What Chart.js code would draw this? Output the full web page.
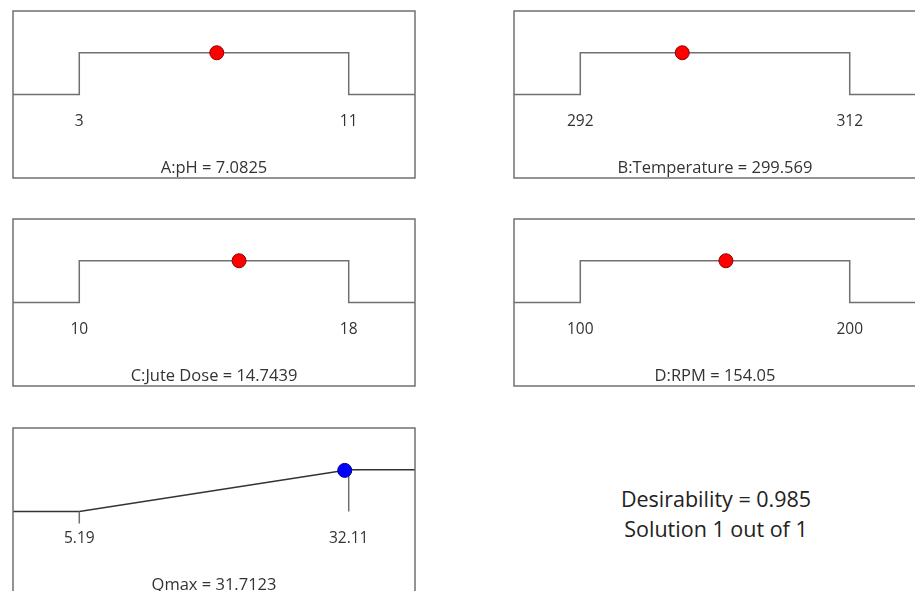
<!DOCTYPE html>
<html>
<head>
<meta charset="utf-8">
<script src="https://cdn.jsdelivr.net/npm/chart.js@4"></script>
<style>
  html, body { margin: 0; padding: 0; background: #fff; }
  body { width: 915px; height: 591px; position: relative; overflow: hidden; font-family: "Open Sans", sans-serif; }
  .panel { position: absolute; width: 404px; height: 169px; }
  .note { position: absolute; left: 560px; top: 484px; width: 312px; text-align: center;
          font-size: 21.5px; line-height: 30px; color: #222; }
</style>
</head>
<body>
<div class="panel" style="left:12px;top:10px"><canvas id="c1" width="404" height="169"></canvas></div>
<div class="panel" style="left:513px;top:10px"><canvas id="c2" width="404" height="169"></canvas></div>
<div class="panel" style="left:12px;top:218px"><canvas id="c3" width="404" height="169"></canvas></div>
<div class="panel" style="left:513px;top:218px"><canvas id="c4" width="404" height="169"></canvas></div>
<div class="panel" style="left:12px;top:427px"><canvas id="c5" width="404" height="169"></canvas></div>
<div class="note">Desirability = 0.985<br>Solution 1 out of 1</div>

<script>
// factor settings: name, low, high, chosen value
const factorNames = ['A:pH', 'B:Temperature', 'C:Jute Dose', 'D:RPM'];
const factorLow = [3, 292, 10, 100];
const factorHigh = [11, 312, 18, 200];
const factorValue = [7.0825, 299.569, 14.7439, 154.05];
const factorLabels = ['7.0825', '299.569', '14.7439', '154.05'];

// response
const respName = 'Qmax';
const respLow = 5.19;
const respHigh = 32.11;
const respValue = 31.7123;
const respLabel = '31.7123';
const respDesirability = 0.985;

const lineGray = '#707070';
const textColor = '#333';

// draws the box round the plot area
const framePlugin = {
    id: 'frame',
    afterDraw(chart) {
        const a = chart.chartArea;
        const ctx = chart.ctx;
        ctx.save();
        ctx.strokeStyle = lineGray;
        ctx.lineWidth = 1.5;
        ctx.strokeRect(a.left, a.top, a.right - a.left, a.bottom - a.top);
        ctx.restore();
    }
};

function makePanel(id, lo, hi, datasets, title) {
    const pad = (hi - lo) * 0.246;
    return new Chart(document.getElementById(id), {
        type: 'scatter',
        data: { datasets: datasets },
        options: {
            responsive: false,
            animation: false,
            layout: { padding: 1, autoPadding: false },
            plugins: { legend: { display: false }, tooltip: { enabled: false } },
            scales: {
                x: {
                    type: 'linear',
                    min: lo - pad,
                    max: hi + pad,
                    position: { y: -0.1 },
                    afterBuildTicks: (axis) => { axis.ticks = [{ value: lo }, { value: hi }]; },
                    grid: { display: false },
                    border: { display: false },
                    ticks: {
                        color: textColor,
                        font: { family: 'Open Sans', size: 15.5 },
                        padding: 6,
                        callback: (v) => String(v)
                    },
                    title: {
                        display: true,
                        text: title,
                        color: textColor,
                        font: { family: 'Open Sans', size: 16.5 },
                        padding: { top: 21.5, bottom: 0 }
                    }
                },
                y: { type: 'linear', min: -2, max: 2, display: false }
            }
        },
        plugins: [framePlugin]
    });
}

// four factor panels: flat step between low and high, marker at chosen value
for (let i = 0; i < 4; i++) {
    const lo = factorLow[i], hi = factorHigh[i];
    const pad = (hi - lo) * 0.246;
    makePanel('c' + (i + 1), lo, hi, [
        {
            type: 'line',
            data: [
                { x: lo - pad, y: 0 }, { x: lo, y: 0 }, { x: lo, y: 1 },
                { x: hi, y: 1 }, { x: hi, y: 0 }, { x: hi + pad, y: 0 }
            ],
            borderColor: lineGray,
            borderWidth: 1.5,
            pointRadius: 0,
            fill: false,
            order: 2
        },
        {
            data: [{ x: factorValue[i], y: 1 }],
            backgroundColor: '#ff0000',
            borderColor: '#8a0000',
            borderWidth: 1,
            pointRadius: 7,
            order: 1
        }
    ], factorNames[i] + ' = ' + factorLabels[i]);
}

// response panel: ramp from low to high goal
{
    const lo = respLow, hi = respHigh;
    const pad = (hi - lo) * 0.246;
    makePanel('c5', lo, hi, [
        {
            type: 'line',
            data: [{ x: lo - pad, y: 0 }, { x: lo, y: 0 }, { x: hi, y: 1 }, { x: hi + pad, y: 1 }],
            borderColor: '#333',
            borderWidth: 1.5,
            pointRadius: 0,
            fill: false,
            order: 3
        },
        {
            type: 'line',
            data: [{ x: lo, y: 0 }, { x: lo, y: -0.29 }],
            borderColor: lineGray,
            borderWidth: 1.5,
            pointRadius: 0,
            order: 2
        },
        {
            type: 'line',
            data: [{ x: hi, y: 1 }, { x: hi, y: 0 }],
            borderColor: lineGray,
            borderWidth: 1.5,
            pointRadius: 0,
            order: 2
        },
        {
            data: [{ x: respValue, y: respDesirability }],
            backgroundColor: '#0000ff',
            borderColor: '#00008a',
            borderWidth: 1,
            pointRadius: 7,
            order: 1
        }
    ], respName + ' = ' + respLabel);
}
</script>
</body>
</html>
